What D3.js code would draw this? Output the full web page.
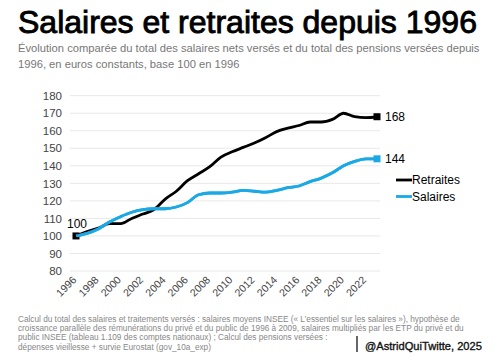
<!DOCTYPE html>
<html><head><meta charset="utf-8">
<script src="https://cdn.jsdelivr.net/npm/d3@7"></script>
<style>
body{margin:0;background:#fff;}
svg{display:block;font-family:"Liberation Sans",Arial,sans-serif;}
</style></head>
<body><svg id="c" width="500" height="361"></svg>
<script>
const years = d3.range(1996, 2024);
const retraites = [100,102.5,104.5,107,107,110,112.5,115,121,125.5,131.5,135.5,139.5,145,148,150.5,153,156,159.5,161.5,163,165,165,166.5,170,168,167.5,168];
const salaires = [100,101.5,104,108,111,113.5,115,115.5,115.5,116.5,119,123.5,124.5,124.5,125,126,125.5,125,126,127.5,128.5,131,133,136,140,142.5,144,144];
const yTicks = [80,90,100,110,120,130,140,150,160,170,180];
const xTicks = d3.range(1996, 2023, 2);
const seriesNames = ["Retraites","Salaires"];
const seriesColors = ["#000000","#1ba9e6"];
const title = "Salaires et retraites depuis 1996";
const subtitle = ["Évolution comparée du total des salaires nets versés et du total des pensions versées depuis","1996, en euros constants, base 100 en 1996"];
const footnote = ["Calcul du total des salaires et traitements versés : salaires moyens INSEE (« L’essentiel sur les salaires »), hypothèse de","croissance parallèle des rémunérations du privé et du public de 1996 à 2009, salaires multipliés par les ETP du privé et du","public INSEE (tableau 1.109 des comptes nationaux) ; Calcul des pensions versées :","dépenses vieillesse + survie Eurostat (gov_10a_exp)"];
const signature = "@AstridQuiTwitte, 2025";

const svg = d3.select("#c");
const x = d3.scaleLinear().domain([1996, 2023]).range([76, 377]);
const y = d3.scaleLinear().domain([80, 180]).range([271, 95.7]);

function fit(sel, size, width){
  sel.attr("font-size", size);
  const w = sel.node().getComputedTextLength();
  sel.attr("font-size", size*width/w);
  return sel;
}

fit(svg.append("text").attr("x",18).attr("y",32.5).attr("fill","#000").attr("stroke","#000").attr("stroke-width",0.9).text(title), 30, 459);
const sub0 = svg.append("text").attr("x",18).attr("y",52).attr("fill","#777").text(subtitle[0]);
fit(sub0, 12, 462);
const subSize = +sub0.attr("font-size");
svg.append("text").attr("x",18).attr("y",68).attr("font-size",subSize).attr("fill","#777").text(subtitle[1]);

// grid
svg.append("g").selectAll("line").data(yTicks).join("line")
  .attr("x1",70).attr("x2",380).attr("y1",d=>y(d)).attr("y2",d=>y(d))
  .attr("stroke","#e8e8e8").attr("stroke-width",1);

const yAxis = svg.append("g").attr("transform","translate(70,0)")
  .call(d3.axisLeft(y).tickValues(yTicks).tickSize(0).tickPadding(8));
yAxis.select(".domain").remove();
yAxis.selectAll("text").attr("font-size",11.5).attr("fill","#444").attr("font-family","Liberation Sans, Arial, sans-serif");

const xAxis = svg.append("g").attr("transform","translate(0,278)")
  .call(d3.axisBottom(x).tickValues(xTicks).tickFormat(d3.format("d")).tickSize(0).tickPadding(0));
xAxis.select(".domain").remove();
xAxis.selectAll("text").attr("font-size",10.5).attr("fill","#444").attr("font-family","Liberation Sans, Arial, sans-serif")
  .attr("text-anchor","end").attr("dy","0.35em").attr("transform","translate(-2,0) rotate(-45)");

const line = d3.line().x((d,i)=>x(years[i])).y(d=>y(d)).curve(d3.curveMonotoneX);
const data = [retraites, salaires];
data.forEach((vals,k)=>{
  svg.append("path").attr("d",line(vals)).attr("fill","none").attr("stroke",seriesColors[k]).attr("stroke-width",2.8).attr("stroke-linejoin","round");
});
svg.append("rect").attr("x",x(1996)-3.5).attr("y",y(100)-3.5).attr("width",7).attr("height",7).attr("fill","#000");
svg.append("path").attr("d",line(salaires)).attr("fill","none").attr("stroke",seriesColors[1]).attr("stroke-width",2.8);
data.forEach((vals,k)=>{
  const v = vals[vals.length-1];
  svg.append("rect").attr("x",x(2023)-3.5).attr("y",y(v)-3.5).attr("width",7).attr("height",7).attr("fill",seriesColors[k]);
  svg.append("text").attr("x",x(2023)+8).attr("y",y(v)).attr("dy","0.35em").attr("font-size",12).attr("fill","#000").text(d3.format("d")(v));
});
svg.append("text").attr("x",x(1996)-9).attr("y",y(100)-8).attr("font-size",12).attr("fill","#000").text("100");

// legend
seriesNames.forEach((n,k)=>{
  const ly = 180 + k*16.5;
  svg.append("line").attr("x1",396).attr("x2",412).attr("y1",ly).attr("y2",ly).attr("stroke",seriesColors[k]).attr("stroke-width",2.8);
  svg.append("text").attr("x",412).attr("y",ly).attr("dy","0.35em").attr("font-size",12).attr("fill","#000").text(n);
});

const f0 = svg.append("text").attr("x",18).attr("y",322).attr("fill","#888").text(footnote[0]);
fit(f0, 8.6, 442);
const fSize = +f0.attr("font-size");
footnote.slice(1).forEach((s,i)=>svg.append("text").attr("x",18).attr("y",322+(i+1)*9.2).attr("font-size",fSize).attr("fill","#888").text(s));
svg.append("line").attr("x1",357).attr("x2",357).attr("y1",336).attr("y2",352).attr("stroke","#000").attr("stroke-width",1.2);
fit(svg.append("text").attr("x",365).attr("y",350).attr("fill","#111").attr("stroke","#111").attr("stroke-width",0.35).text(signature), 11.5, 117);
</script></body></html>
